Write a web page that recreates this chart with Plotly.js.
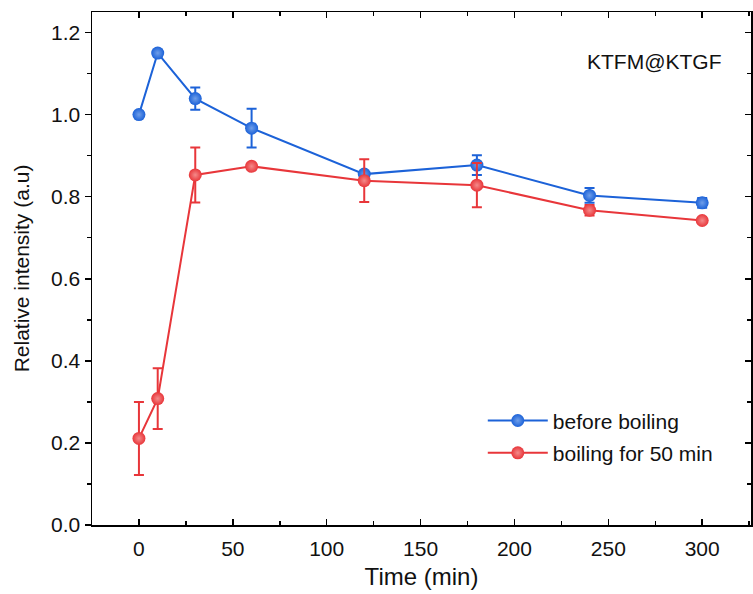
<!DOCTYPE html>
<html>
<head>
<meta charset="utf-8">
<script src="https://cdn.plot.ly/plotly-3.0.1.min.js"></script>
<style>html,body{margin:0;padding:0;background:#fff;}#chart{width:753px;height:594px;}</style>
</head>
<body>
<div id="chart"></div>
<script>
const timeMin = [0, 10, 30, 60, 120, 180, 240, 300];
const beforeBoiling = [1.0, 1.150, 1.039, 0.967, 0.855, 0.877, 0.803, 0.785];
const beforeBoilingErr = [0.0, 0.008, 0.027, 0.047, 0.005, 0.024, 0.018, 0.012];
const boiling50 = [0.211, 0.308, 0.853, 0.874, 0.839, 0.828, 0.767, 0.742];
const boiling50Err = [0.089, 0.074, 0.067, 0.007, 0.052, 0.054, 0.013, 0.005];
const seriesNames = ['before boiling', 'boiling for 50 min'];
const annotationText = 'KTFM@KTGF';

const blue = '#1C62D8';
const red = '#E8363A';
const font = 'Arial, "Liberation Sans", sans-serif';

function trace(name, y, err, color, light, grp) {
  return {
    type: 'scatter', mode: 'lines+markers', name: name, legendgroup: grp,
    x: timeMin, y: y,
    line: {color: color, width: 2},
    marker: {color: color, size: 13, symbol: 'circle',
      gradient: {type: 'radial', color: light}, line: {width: 0}},
    error_y: {type: 'data', array: err, visible: true, color: color, thickness: 2, width: 5}
  };
}

const data = [
  trace(seriesNames[0], beforeBoiling, beforeBoilingErr, blue, '#6f9ee9', 'a'),
  trace(seriesNames[1], boiling50, boiling50Err, red, '#f48a8a', 'b')
];

const layout = {
  width: 753, height: 594,
  margin: {l: 92, r: 1.5, t: 12, b: 69},
  paper_bgcolor: '#fff', plot_bgcolor: '#fff',
  font: {family: font, size: 21, color: '#111'},
  showlegend: true,
  legend: {x: 0.593, y: 0.243, xanchor: 'left', yanchor: 'top',
    bgcolor: 'rgba(0,0,0,0)', font: {family: font, size: 21, color: '#111'},
    itemwidth: 60, tracegroupgap: 2},
  xaxis: {
    range: [-25, 326], showgrid: false, zeroline: false,
    showline: true, linecolor: '#000', linewidth: 1.5, mirror: 'ticks',
    ticks: 'inside', ticklen: 6, tickwidth: 1.5, tickcolor: '#000',
    tick0: 0, dtick: 50, ticklabelstandoff: 4,
    minor: {ticks: 'inside', ticklen: 4, tickwidth: 1.5, tickcolor: '#000', dtick: 25, showgrid: false},
    tickfont: {family: font, size: 21, color: '#111'},
    title: {text: 'Time (min)', font: {family: font, size: 24, color: '#111'}, standoff: 9}
  },
  yaxis: {
    range: [0, 1.25], showgrid: false, zeroline: false,
    showline: true, linecolor: '#000', linewidth: 1.5, mirror: true,
    ticks: 'outside', ticklen: 6, tickwidth: 1.5, tickcolor: '#000',
    tick0: 0, dtick: 0.2, tickformat: '.1f',
    minor: {ticks: 'outside', ticklen: 4, tickwidth: 1.5, tickcolor: '#000', dtick: 0.1, showgrid: false},
    tickfont: {family: font, size: 21, color: '#111'},
    title: {text: 'Relative intensity (a.u)', font: {family: font, size: 21, color: '#111'}, standoff: 15}
  },
  yaxis2: {
    overlaying: 'y', side: 'right', range: [0, 1.25], showgrid: false, zeroline: false,
    showline: false, showticklabels: false,
    ticks: 'inside', ticklen: 6, tickwidth: 1.5, tickcolor: '#000', tick0: 0, dtick: 0.2,
    minor: {ticks: 'inside', ticklen: 4, tickwidth: 1.5, tickcolor: '#000', dtick: 0.1}
  },
  annotations: [{
    text: annotationText, xref: 'paper', yref: 'paper', x: 0.853, y: 0.903,
    xanchor: 'center', yanchor: 'middle', showarrow: false,
    font: {family: font, size: 21, color: '#111'}
  }]
};

// invisible trace to activate the right-side tick axis
data.push({type: 'scatter', x: [timeMin[0]], y: [beforeBoiling[0]], yaxis: 'y2',
  mode: 'markers', marker: {opacity: 0}, showlegend: false, hoverinfo: 'skip'});

Plotly.newPlot('chart', data, layout, {displayModeBar: false, staticPlot: true});
</script>
</body>
</html>
